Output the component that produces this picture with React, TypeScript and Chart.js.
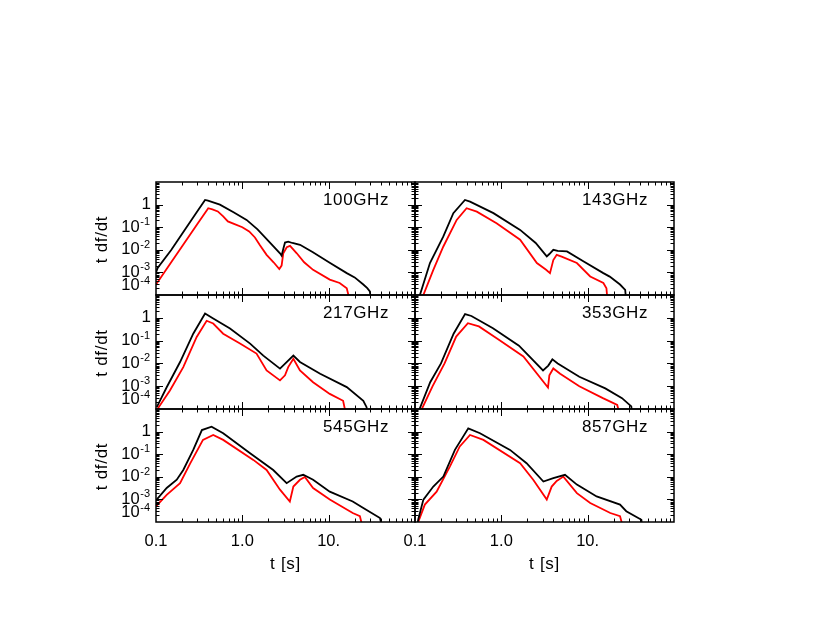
import { useEffect, useRef } from 'react';
import { Chart, registerables } from 'chart.js';

Chart.register(...registerables);

// ---------- axes ----------
const X_MIN = 0.1;
const X_MAX = 100;
const Y_MIN = 1e-4;
const Y_MAX = 10;
const xTickValues = [0.1, 1, 10];
const xTickLabels = ['0.1', '1.0', '10.'];
const yTickExponents = [0, -1, -2, -3, -4];
const xTitle = 't [s]';
const yTitle = 't df/dt';
const panelLabels = ['100GHz', '143GHz', '217GHz', '353GHz', '545GHz', '857GHz'];

// ---------- data (t [s], t df/dt) ----------
const t100Black = [0.1, 0.105, 0.15, 0.2, 0.3, 0.37, 0.4, 0.55, 0.8, 1.12, 1.5, 2.0, 2.73, 2.85, 3.0, 3.12, 3.4, 3.8, 4.66, 6.5, 10.4, 16.2, 20, 25.2, 28, 30, 31];
const f100Black = [1.0e-3, 1.6e-3, 9.8e-3, 0.05, 0.49, 1.6, 1.5, 1.0, 0.45, 0.21, 0.08, 0.025, 7e-3, 5.5e-3, 1.2e-2, 2.1e-2, 2.3e-2, 2.0e-2, 1.66e-2, 8e-3, 2.6e-3, 9.3e-4, 6e-4, 2.9e-4, 2.0e-4, 1.45e-4, 5e-5];
const t100Red = [0.1, 0.15, 0.2, 0.3, 0.403, 0.45, 0.52, 0.6, 0.68, 0.8, 1.0, 1.2, 1.4, 1.6, 1.91, 2.3, 2.68, 2.85, 2.98, 3.27, 3.57, 4.27, 5.2, 6.6, 10.3, 13.4, 16.2, 17.7];
const f100Red = [2.9e-4, 2.8e-3, 0.0139, 0.134, 0.69, 0.62, 0.5, 0.3, 0.18, 0.14, 0.1, 0.065, 0.035, 0.016, 6e-3, 2.8e-3, 1.4e-3, 2.0e-3, 7e-3, 1.3e-2, 1.5e-2, 7e-3, 2.8e-3, 1.3e-3, 4.8e-4, 3.4e-4, 2.0e-4, 5e-5];

const t143Black = [0.11, 0.114, 0.149, 0.213, 0.278, 0.379, 0.434, 0.81, 1.65, 2.5, 3.36, 3.6, 4.0, 4.5, 5.76, 8.9, 15.2, 18, 23.7, 27.2, 28];
const f143Black = [5e-5, 1e-4, 2.6e-3, 0.039, 0.42, 1.6, 1.35, 0.42, 0.076, 0.02, 5.1e-3, 6.5e-3, 1.0e-2, 9e-3, 8.5e-3, 3.1e-3, 9.3e-4, 6.5e-4, 2.9e-4, 1.7e-4, 5e-5];
const t143Red = [0.12, 0.125, 0.163, 0.213, 0.304, 0.396, 0.52, 0.88, 1.65, 2.58, 3.3, 3.66, 4.0, 4.38, 5.0, 7.5, 10.7, 15.2, 16.5, 17];
const f143Red = [5e-5, 1e-4, 1.3e-3, 0.014, 0.21, 0.69, 0.49, 0.15, 0.028, 2.6e-3, 1.3e-3, 9.3e-4, 3.5e-3, 6e-3, 5e-3, 2.6e-3, 6.6e-4, 3.4e-4, 2e-4, 5e-5];

const t217Black = [0.102, 0.133, 0.19, 0.27, 0.37, 0.46, 0.72, 1.23, 1.75, 2.73, 3.26, 3.9, 4.65, 7.97, 16.2, 25.2, 27.5, 28];
const f217Black = [1.2e-4, 9e-4, 0.0115, 0.2, 1.55, 0.93, 0.34, 0.074, 0.022, 5.9e-3, 0.0115, 0.022, 0.0115, 3.5e-3, 9.1e-4, 2.3e-4, 1.2e-4, 5e-5];
const t217Red = [0.1, 0.104, 0.145, 0.207, 0.296, 0.386, 0.46, 0.6, 0.94, 1.46, 1.91, 2.73, 3.12, 3.4, 3.9, 4.65, 6.6, 10.3, 14.7, 16];
const f217Red = [5e-5, 1e-4, 6.5e-4, 6.9e-3, 0.145, 0.74, 0.56, 0.2, 0.074, 0.027, 4.9e-3, 1.8e-3, 3e-3, 6.9e-3, 0.016, 4.9e-3, 1.5e-3, 4.6e-4, 2.3e-4, 5e-5];

const t353Black = [0.11, 0.113, 0.15, 0.2, 0.28, 0.38, 0.45, 0.8, 1.6, 3.04, 3.5, 3.9, 4.5, 8, 16, 25, 32, 33];
const f353Black = [5e-5, 1e-4, 1.5e-3, 0.01, 0.2, 1.45, 1.2, 0.35, 0.06, 4.9e-3, 8e-3, 0.015, 0.01, 2.6e-3, 8e-4, 3e-4, 1.3e-4, 5e-5];
const t353Red = [0.11, 0.12, 0.16, 0.22, 0.3, 0.41, 0.55, 0.9, 1.8, 3.47, 3.6, 4.0, 4.8, 8, 15, 22, 23.7];
const f353Red = [5e-5, 1e-4, 1e-3, 0.01, 0.15, 0.58, 0.42, 0.12, 0.02, 8.7e-4, 3e-3, 6e-3, 3.5e-3, 1e-3, 3e-4, 1.5e-4, 5e-5];

const t545Black = [0.1, 0.133, 0.174, 0.207, 0.27, 0.34, 0.44, 0.6, 1.23, 2.28, 3.26, 4.26, 5.08, 6.6, 10.3, 19, 25.2, 39.3, 42];
const f545Black = [9e-4, 3.2e-3, 7.4e-3, 0.02, 0.155, 1.17, 1.66, 0.85, 0.11, 0.02, 5.2e-3, 0.0102, 0.0123, 7.4e-3, 2.2e-3, 8.1e-4, 4.2e-4, 1.5e-4, 5e-5];
const t545Red = [0.1, 0.133, 0.19, 0.25, 0.35, 0.46, 0.6, 1.34, 1.91, 2.73, 3.55, 3.9, 4.65, 5.3, 6.6, 10.3, 19, 23, 25];
const f545Red = [4.9e-4, 1.6e-3, 5.2e-3, 0.04, 0.43, 0.71, 0.43, 0.056, 0.02, 2.7e-3, 8.1e-4, 3.7e-3, 7.4e-3, 9.8e-3, 3.2e-3, 9.8e-4, 2.5e-4, 1.8e-4, 5e-5];

const t857Black = [0.105, 0.109, 0.125, 0.163, 0.213, 0.29, 0.414, 0.566, 1.26, 1.96, 3.07, 4.0, 5.46, 7.5, 12.7, 23.7, 28, 41.9, 43];
const f857Black = [5e-5, 1.3e-4, 9.8e-4, 3.7e-3, 0.0102, 0.155, 1.4, 0.85, 0.155, 0.04, 6.2e-3, 8.7e-3, 0.0123, 4.5e-3, 1.35e-3, 5.9e-4, 3e-4, 1.26e-4, 5e-5];
const t857Red = [0.107, 0.109, 0.13, 0.178, 0.254, 0.33, 0.434, 0.62, 1.65, 2.34, 3.36, 3.83, 4.38, 5.23, 7.5, 10.7, 18.3, 23.7, 26];
const f857Red = [5e-5, 1e-4, 5.9e-4, 2.2e-3, 0.029, 0.22, 0.71, 0.43, 0.04, 7.4e-3, 9.8e-4, 3.7e-3, 6.6e-3, 0.0102, 1.9e-3, 6.9e-4, 2.5e-4, 1.8e-4, 5e-5];

const seriesBlack = [
  [t100Black, f100Black], [t143Black, f143Black], [t217Black, f217Black],
  [t353Black, f353Black], [t545Black, f545Black], [t857Black, f857Black],
];
const seriesRed = [
  [t100Red, f100Red], [t143Red, f143Red], [t217Red, f217Red],
  [t353Red, f353Red], [t545Red, f545Red], [t857Red, f857Red],
];

// ---------- layout ----------
const W = 830;
const H = 642;
const colEdges = [156, 415, 674];
const rowEdges = [182, 295, 409, 522];
const FONT = '"Liberation Sans", Arial, Helvetica, sans-serif';

const zip = (t: number[], f: number[]) => t.map((x, i) => ({ x, y: f[i] }));

const decorPlugin = {
  id: 'panelDecor',
  afterDraw(chart: any, _args: any, opts: any) {
    const { ctx, chartArea: a } = chart;
    const xs = chart.scales.x;
    const ys = chart.scales.y;
    ctx.save();
    ctx.strokeStyle = '#000';
    ctx.fillStyle = '#000';
    ctx.lineWidth = 1;
    // ticks
    ctx.beginPath();
    for (let d = -1; d <= 2; d++) {
      for (let m = 1; m <= 9; m++) {
        const v = m * Math.pow(10, d);
        if (v <= X_MIN || v >= X_MAX) continue;
        const px = Math.round(xs.getPixelForValue(v)) + 0.5;
        const len = m === 1 ? 7 : 3.5;
        ctx.moveTo(px, a.bottom);
        ctx.lineTo(px, a.bottom - len);
        ctx.moveTo(px, a.top);
        ctx.lineTo(px, a.top + len);
      }
    }
    for (let d = -5; d <= 1; d++) {
      for (let m = 1; m <= 9; m++) {
        const v = m * Math.pow(10, d);
        if (v <= Y_MIN || v >= Y_MAX) continue;
        const py = Math.round(ys.getPixelForValue(v)) + 0.5;
        const len = m === 1 ? 7 : 3.5;
        ctx.moveTo(a.left, py);
        ctx.lineTo(a.left + len, py);
        ctx.moveTo(a.right, py);
        ctx.lineTo(a.right - len, py);
      }
    }
    ctx.stroke();
    // frame
    ctx.lineWidth = 1.5;
    ctx.strokeRect(a.left, a.top, a.right - a.left, a.bottom - a.top);

    ctx.textBaseline = 'middle';
    // y tick labels
    if (opts.yLabels) {
      for (const e of yTickExponents) {
        let py = ys.getPixelForValue(Math.pow(10, e));
        if (py > a.bottom - 8) py = a.bottom - 9.5;
        const right = a.left - 6;
        if (e === 0) {
          ctx.font = `17px ${FONT}`;
          ctx.textAlign = 'right';
          ctx.fillText('1', right + 1, py);
        } else {
          const sup = String(e);
          ctx.font = `11px ${FONT}`;
          ctx.textAlign = 'right';
          const sw = ctx.measureText(sup).width;
          ctx.fillText(sup, right, py - 5);
          ctx.font = `16.5px ${FONT}`;
          ctx.fillText('10', right - sw - 0.5, py);
        }
      }
      // y title
      ctx.save();
      ctx.font = `17px ${FONT}`;
      (ctx as any).letterSpacing = '0.7px';
      ctx.translate(a.left - 54, (a.top + a.bottom) / 2 + 1);
      ctx.rotate(-Math.PI / 2);
      ctx.textAlign = 'center';
      ctx.fillText(yTitle, 0, 0);
      ctx.restore();
    }
    // x tick labels
    if (opts.xLabels) {
      ctx.font = `16.5px ${FONT}`;
      ctx.textAlign = 'center';
      xTickValues.forEach((v, i) => {
        const px = xs.getPixelForValue(v);
        ctx.fillText(xTickLabels[i], px, a.bottom + 19);
      });
      ctx.save();
      ctx.font = `17px ${FONT}`;
      (ctx as any).letterSpacing = '0.7px';
      ctx.fillText(xTitle, (a.left + a.right) / 2, a.bottom + 42);
      ctx.restore();
    }
    // panel label
    ctx.save();
    ctx.font = `17px ${FONT}`;
    (ctx as any).letterSpacing = '0.6px';
    ctx.textAlign = 'right';
    ctx.fillText(opts.label, a.right - 26, a.top + 18.5);
    ctx.restore();
    ctx.restore();
  },
};

function Panel({ index }: { index: number }) {
  const ref = useRef<HTMLCanvasElement | null>(null);
  useEffect(() => {
    if (!ref.current) return;
    const col = index % 2;
    const row = Math.floor(index / 2);
    const [tb, fb] = seriesBlack[index];
    const [tr, fr] = seriesRed[index];
    const chart = new Chart(ref.current, {
      type: 'line',
      data: {
        datasets: [
          { data: zip(tb, fb), borderColor: '#000000', borderWidth: 1.8, pointRadius: 0, tension: 0, fill: false },
          { data: zip(tr, fr), borderColor: '#ff0000', borderWidth: 1.8, pointRadius: 0, tension: 0, fill: false },
        ],
      },
      options: {
        animation: false,
        responsive: false,
        maintainAspectRatio: false,
        events: [],
        layout: {
          padding: {
            left: colEdges[col],
            right: W - colEdges[col + 1],
            top: rowEdges[row],
            bottom: H - rowEdges[row + 1],
          },
        },
        plugins: {
          legend: { display: false },
          tooltip: { enabled: false },
          panelDecor: { label: panelLabels[index], yLabels: col === 0, xLabels: row === 2 },
        } as any,
        scales: {
          x: { type: 'logarithmic', min: X_MIN, max: X_MAX, display: false },
          y: { type: 'logarithmic', min: Y_MIN, max: Y_MAX, display: false },
        },
      },
      plugins: [decorPlugin],
    } as any);
    return () => chart.destroy();
  }, [index]);
  return (
    <canvas
      ref={ref}
      width={W}
      height={H}
      style={{ position: 'absolute', left: 0, top: 0, width: W, height: H }}
    />
  );
}

export default function App() {
  return (
    <div style={{ position: 'absolute', left: 0, top: 0, width: W, height: H, background: '#fff' }}>
      {[0, 1, 2, 3, 4, 5].map((i) => (
        <Panel key={i} index={i} />
      ))}
    </div>
  );
}
